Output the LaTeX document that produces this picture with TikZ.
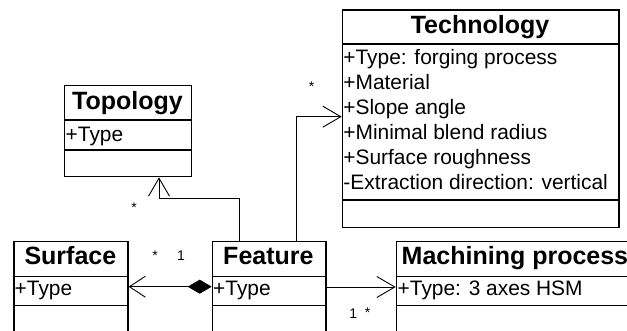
\documentclass[tikz,border=0pt]{standalone}
\usepackage{fontspec}
\setmainfont{Liberation Sans}
\usetikzlibrary{arrows.meta,calc}
\begin{document}
\begin{tikzpicture}[x=1pt,y=-1pt,
  frame/.style={draw=black,line width=1.3pt,rectangle,inner sep=0pt,anchor=north west},
  sepline/.style={draw=black,line width=1.3pt},
  titletext/.style={inner sep=0pt,anchor=base,font=\fontsize{25}{25}\selectfont\bfseries},
  attrtext/.style={inner sep=0pt,anchor=base west,font=\fontsize{20.9}{20.9}\selectfont},
  multtext/.style={inner sep=0pt,anchor=base,font=\fontsize{14}{14}\selectfont},
  assoc/.style={draw=black,line width=0.9pt},
  openend/.style={-{Straight Barb[length=18pt,width=21pt,line width=0.9pt]}},
  compo/.style={{Diamond[length=24pt,width=14pt,fill=black]}-{Straight Barb[length=16pt,width=21pt,line width=0.9pt]}}
]
\useasboundingbox (0,0) rectangle (627,331);
\clip (0,0) rectangle (627,331);
\fill[white] (0,0) rectangle (627,331);

% Topology
\node[frame,minimum width=127pt,minimum height=91pt] (topo) at (64,85) {};
\draw[sepline] (topo.west |- 0,120) -- (topo.east |- 0,120);
\draw[sepline] (topo.west |- 0,150) -- (topo.east |- 0,150);
\node[titletext] (topot) at (127.5,110) {Topology};
\node[attrtext] (topoa) at (65.5,141.5) {+Type};

% Technology
\node[frame,minimum width=276.6pt,minimum height=217.4pt] (tech) at (341.7,9.3) {};
\draw[sepline] (tech.west |- 0,44) -- (tech.east |- 0,44);
\draw[sepline] (tech.west |- 0,200) -- (tech.east |- 0,200);
\node[titletext] (techt) at (480,33.5) {Technology};
\node[attrtext] (techa1) at (343.2,65) {+Type: forging process};
\node[attrtext] (techa2) at (343.2,90) {+Material};
\node[attrtext] (techa3) at (343.2,115) {+Slope angle};
\node[attrtext] (techa4) at (343.2,140) {+Minimal blend radius};
\node[attrtext] (techa5) at (343.2,165) {+Surface roughness};
\node[attrtext] (techa6) at (343.2,190) {-Extraction direction: vertical};

% Surface
\node[frame,minimum width=114pt,minimum height=110pt] (surf) at (13.3,240.7) {};
\draw[sepline] (surf.west |- 0,276.5) -- (surf.east |- 0,276.5);
\draw[sepline] (surf.west |- 0,305.3) -- (surf.east |- 0,305.3);
\node[titletext] (surft) at (70.4,265) {Surface};
\node[attrtext] (surfa) at (14.5,296) {+Type};

% Feature
\node[frame,minimum width=113.5pt,minimum height=110pt] (feat) at (211.7,240.7) {};
\draw[sepline] (feat.west |- 0,276.5) -- (feat.east |- 0,276.5);
\draw[sepline] (feat.west |- 0,305.5) -- (feat.east |- 0,305.5);
\node[titletext] (featt) at (268.4,265) {Feature};
\node[attrtext] (feata) at (213,296) {+Type};

% Machining process
\node[frame,minimum width=260pt,minimum height=110pt] (mach) at (395.7,241) {};
\draw[sepline] (mach.west |- 0,276.3) -- (mach.east |- 0,276.3);
\draw[sepline] (mach.west |- 0,305.3) -- (mach.east |- 0,305.3);
\node[titletext,anchor=base west] (macht) at (401.5,265) {Machining process};
\node[attrtext] (macha) at (397.5,296) {+Type: 3 axes HSM};

% Connectors
\coordinate (tbend) at (159,198.3);
\draw[assoc,openend] (feat.north -| 239.3,0) |- (tbend) -- (topo.south -| tbend);
\draw[assoc,openend] (feat.north -| 296.7,0) |- (tech.west |- 0,116.7);
\draw[assoc,compo] (feat.west |- 0,286.7) -- (surf.east |- 0,286.7);
\draw[assoc,openend] (feat.east |- 0,287) -- (mach.west |- 0,287);

% Multiplicities
\node[multtext] (m1) at (311.7,91.5) {*};
\node[multtext] (m2) at (134,213) {*};
\node[multtext] (m3) at (155,260.3) {*};
\node[multtext] (m4) at (181,261) {1};
\node[multtext] (m5) at (353.3,318.3) {1};
\node[multtext] (m6) at (367.7,318) {*};
\end{tikzpicture}
\end{document}
